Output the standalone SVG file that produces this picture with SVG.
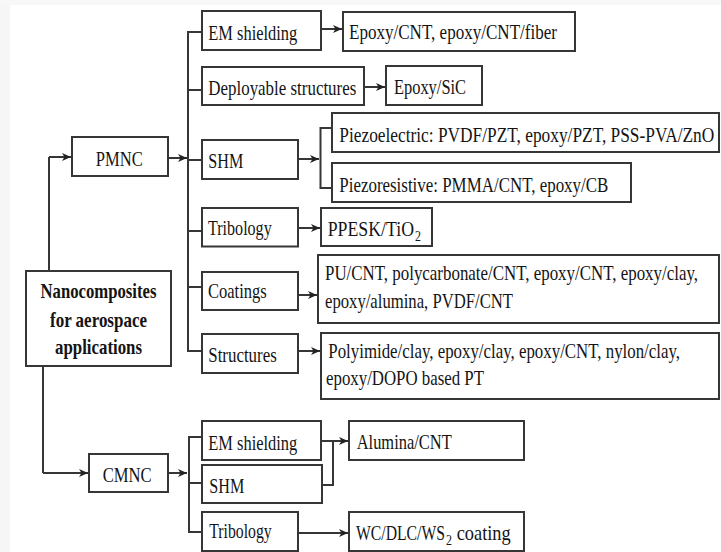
<svg xmlns="http://www.w3.org/2000/svg" width="721" height="552" viewBox="0 0 721 552">
<defs>
<style>
.bx{fill:#fff;stroke:#363636;stroke-width:2}
.ln{fill:none;stroke:#363636;stroke-width:2}
.ar{marker-end:url(#ah)}
.b{font-weight:bold;text-anchor:middle}
</style>
<marker id="ah" markerUnits="userSpaceOnUse" markerWidth="10" markerHeight="9" refX="9" refY="4" orient="auto">
<path d="M0,0 L9,4 L0,8 L2.5,4 z" fill="#222"/>
</marker>
</defs>
<rect x="0" y="0" width="721" height="552" fill="#fff"/>
<rect x="0" y="0" width="10" height="552" fill="#f6f6f6"/>
<rect x="0" y="0" width="721" height="5" fill="#f8f8f8"/>

<g id="connectors">
<path class="ln" d="M49,271 V157"/><path class="ln ar" d="M49,157 H71"/>
<path class="ln" d="M43,366 V473"/><path class="ln ar" d="M43,473 H88"/>
<path class="ln ar" d="M168,158 H187"/>
<path class="ln" d="M202,32 H188 V351 H202 M188,90 H202 M188,160 H202 M188,231 H202 M188,287 H202"/>
<path class="ln ar" d="M168,473 H187"/>
<path class="ln" d="M202,437 H189 V532 H202 M189,483 H202"/>
<path class="ln ar" d="M321,29 H342"/>
<path class="ln ar" d="M364,87 H385"/>
<path class="ln ar" d="M298,159 H319"/>
<path class="ln" d="M332,128 H320.5 V188 H332"/>
<path class="ln ar" d="M298,228 H320"/>
<path class="ln ar" d="M298,295 H317"/>
<path class="ln ar" d="M298,351 H320"/>
<path class="ln ar" d="M321,441 H348"/>
<path class="ln" d="M322,485 H333 V441"/>
<path class="ln ar" d="M298,533 H348"/>
</g>

<g id="nodes" font-family="Liberation Serif, serif" font-size="21" fill="#141414">
<g id="nano"><rect class="bx" x="26" y="271" width="145" height="95"/>
<text class="b" x="98.5" y="298" textLength="116" lengthAdjust="spacingAndGlyphs">Nanocomposites</text>
<text class="b" x="98.5" y="327" textLength="97" lengthAdjust="spacingAndGlyphs">for aerospace</text>
<text class="b" x="98.5" y="353.5" textLength="87" lengthAdjust="spacingAndGlyphs">applications</text></g>

<g id="pmnc"><rect class="bx" x="72" y="137" width="96" height="39"/>
<text x="95.7" y="165.7" textLength="47" lengthAdjust="spacingAndGlyphs">PMNC</text></g>
<g id="cmnc"><rect class="bx" x="89" y="454" width="79" height="38"/>
<text x="102.7" y="481.7" textLength="49" lengthAdjust="spacingAndGlyphs">CMNC</text></g>

<g id="p_em"><rect class="bx" x="202" y="11" width="119" height="39"/>
<text x="208.3" y="39.5" textLength="89" lengthAdjust="spacingAndGlyphs">EM shielding</text></g>
<g id="p_dep"><rect class="bx" x="202" y="67" width="162" height="38"/>
<text x="208.3" y="94.5" textLength="148" lengthAdjust="spacingAndGlyphs">Deployable structures</text></g>
<g id="p_shm"><rect class="bx" x="202" y="140" width="96" height="39"/>
<text x="208.3" y="168.3" textLength="35" lengthAdjust="spacingAndGlyphs">SHM</text></g>
<g id="p_tri"><rect class="bx" x="202" y="208" width="96" height="38.5"/>
<text x="208" y="235" textLength="63.7" lengthAdjust="spacingAndGlyphs">Tribology</text></g>
<g id="p_coat"><rect class="bx" x="202" y="272" width="96" height="38"/>
<text x="208" y="298" textLength="58.7" lengthAdjust="spacingAndGlyphs">Coatings</text></g>
<g id="p_str"><rect class="bx" x="202" y="334" width="96" height="39"/>
<text x="208.3" y="361.7" textLength="68.4" lengthAdjust="spacingAndGlyphs">Structures</text></g>

<g id="r_em"><rect class="bx" x="343" y="12" width="232" height="39"/>
<text x="349" y="39" textLength="208" lengthAdjust="spacingAndGlyphs">Epoxy/CNT, epoxy/CNT/fiber</text></g>
<g id="r_dep"><rect class="bx" x="386" y="66" width="96" height="39"/>
<text x="394" y="93.5" textLength="72" lengthAdjust="spacingAndGlyphs">Epoxy/SiC</text></g>
<g id="r_pe"><rect class="bx" x="332" y="113" width="387" height="39"/>
<text transform="translate(339.3 141.7) scale(0.8 1)" x="0" y="0" textLength="468.75" lengthAdjust="spacingAndGlyphs">Piezoelectric: PVDF/PZT, epoxy/PZT, PSS-PVA/ZnO</text></g>
<g id="r_pr"><rect class="bx" x="332" y="163" width="299" height="39"/>
<text x="339.3" y="192" textLength="269" lengthAdjust="spacingAndGlyphs">Piezoresistive: PMMA/CNT, epoxy/CB</text></g>
<g id="r_tri"><rect class="bx" x="321" y="208" width="111" height="38"/>
<text transform="translate(327.7 236) scale(0.84 1)" x="0" y="0" textLength="102.7" lengthAdjust="spacingAndGlyphs">PPESK/TiO</text>
<text transform="translate(415 240.5) scale(0.85 1)" x="0" y="0" font-size="14">2</text></g>
<g id="r_coat"><rect class="bx" x="318" y="255" width="401" height="68"/>
<text transform="translate(325 280) scale(0.8 1)" x="0" y="0" textLength="466.25" lengthAdjust="spacingAndGlyphs">PU/CNT, polycarbonate/CNT, epoxy/CNT, epoxy/clay,</text>
<text x="325" y="308.3" textLength="188" lengthAdjust="spacingAndGlyphs">epoxy/alumina, PVDF/CNT</text></g>
<g id="r_str"><rect class="bx" x="321" y="333" width="398" height="66"/>
<text transform="translate(328.3 358.3) scale(0.8 1)" x="0" y="0" textLength="439.6" lengthAdjust="spacingAndGlyphs">Polyimide/clay, epoxy/clay, epoxy/CNT, nylon/clay,</text>
<text x="326" y="385" textLength="158" lengthAdjust="spacingAndGlyphs">epoxy/DOPO based PT</text></g>

<g id="c_em"><rect class="bx" x="202" y="421" width="119" height="39"/>
<text x="208.3" y="450" textLength="89" lengthAdjust="spacingAndGlyphs">EM shielding</text></g>
<g id="c_shm"><rect class="bx" x="202" y="465" width="120" height="38"/>
<text x="209.3" y="492.7" textLength="35" lengthAdjust="spacingAndGlyphs">SHM</text></g>
<g id="c_tri"><rect class="bx" x="202" y="512" width="96" height="39"/>
<text x="209.3" y="538.3" textLength="62.4" lengthAdjust="spacingAndGlyphs">Tribology</text></g>
<g id="r_al"><rect class="bx" x="349" y="421" width="175" height="39"/>
<text x="356.7" y="449.3" textLength="95" lengthAdjust="spacingAndGlyphs">Alumina/CNT</text></g>
<g id="r_wc"><rect class="bx" x="349" y="512" width="175" height="39"/>
<text transform="translate(356 540) scale(0.75 1)" x="0" y="0" textLength="118.7" lengthAdjust="spacingAndGlyphs">WC/DLC/WS</text>
<text transform="translate(446 544.5) scale(0.85 1)" x="0" y="0" font-size="14">2</text>
<text transform="translate(456.7 540) scale(0.87 1)" x="0" y="0" textLength="62.1" lengthAdjust="spacingAndGlyphs">coating</text></g>
</g>
</svg>
